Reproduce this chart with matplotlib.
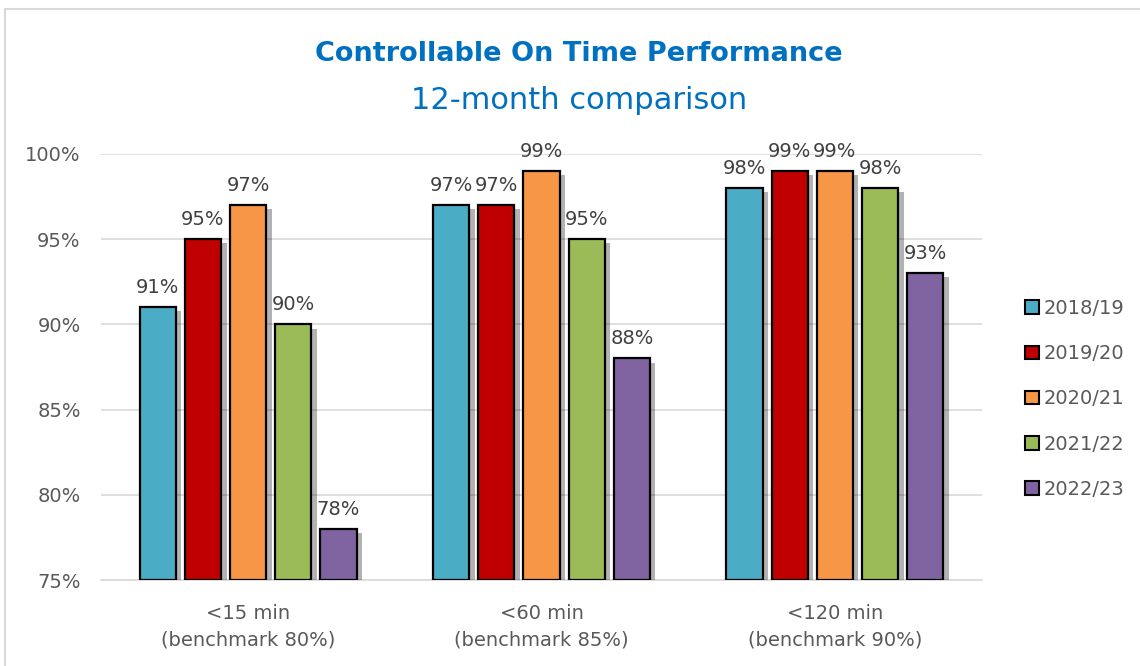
import numpy as np
import matplotlib.pyplot as plt
import matplotlib.patheffects as pe
from matplotlib.patches import Rectangle

# datos
categories = ["<15 min\n(benchmark 80%)", "<60 min\n(benchmark 85%)", "<120 min\n(benchmark 90%)"]
years = ["2018/19", "2019/20", "2020/21", "2021/22", "2022/23"]
y2018 = [91, 97, 98]
y2019 = [95, 97, 99]
y2020 = [97, 99, 99]
y2021 = [90, 95, 98]
y2022 = [78, 88, 93]
series = [y2018, y2019, y2020, y2021, y2022]
colors = ["#4BACC6", "#C00000", "#F79646", "#9BBB59", "#8064A2"]

fig = plt.figure(figsize=(11.4, 6.66), dpi=100)
ax = fig.add_axes([0.089, 0.129, 0.772, 0.64])

x = np.arange(len(categories))
w = 0.123
step = 0.154
shadow = [pe.withSimplePatchShadow(offset=(4, -3), shadow_rgbFace="black", alpha=0.3)]
for i, (vals, col, lab) in enumerate(zip(series, colors, years)):
    pos = x + (i - 2) * step
    bars = ax.bar(pos, np.array(vals) - 75, width=w, bottom=75, color=col,
                  edgecolor="black", linewidth=1.6, label=lab, zorder=3)
    for b in bars:
        b.set_path_effects(shadow)
    for p, v in zip(pos, vals):
        ax.text(p, v + 0.6, f"{v}%", ha="center", va="bottom", fontsize=14, color="#404040", zorder=4)

ax.set_ylim(75, 100)
ax.set_xlim(-0.5, 2.5)
ax.set_yticks(np.arange(75, 101, 5))
ax.set_yticklabels([f"{t}%" for t in range(75, 101, 5)])
ax.set_xticks(x)
ax.set_xticklabels(categories, linespacing=1.55)
ax.tick_params(axis="both", length=0, labelsize=14, colors="#595959")
ax.tick_params(axis="y", pad=15)
ax.tick_params(axis="x", pad=17)
ax.grid(axis="y", color="#D9D9D9", linewidth=1.2, zorder=0)
for s in ["top", "right", "left"]:
    ax.spines[s].set_visible(False)
ax.spines["bottom"].set_color("#D9D9D9")
ax.spines["bottom"].set_linewidth(1.2)

leg = ax.legend(loc="center left", bbox_to_anchor=(1.03, 0.425), frameon=False, fontsize=14,
                labelcolor="#595959", handlelength=0.7, handleheight=0.7, handletextpad=0.25,
                labelspacing=1.35)
for h in leg.legend_handles:
    h.set_edgecolor("black")
    h.set_linewidth(1.5)
    h.set_path_effects([])

fig.text(0.508, 0.919, "Controllable On Time Performance", ha="center", va="center",
         fontsize=19.5, fontweight="bold", color="#0070C0")
fig.text(0.508, 0.849, "12-month comparison", ha="center", va="center",
         fontsize=22, color="#0070C0")

fig.patches.append(Rectangle((0.004, -0.01), 1.1, 0.996, transform=fig.transFigure,
                             fill=False, edgecolor="#D9D9D9", linewidth=1.5))

fig.savefig("out.png", dpi=100)
